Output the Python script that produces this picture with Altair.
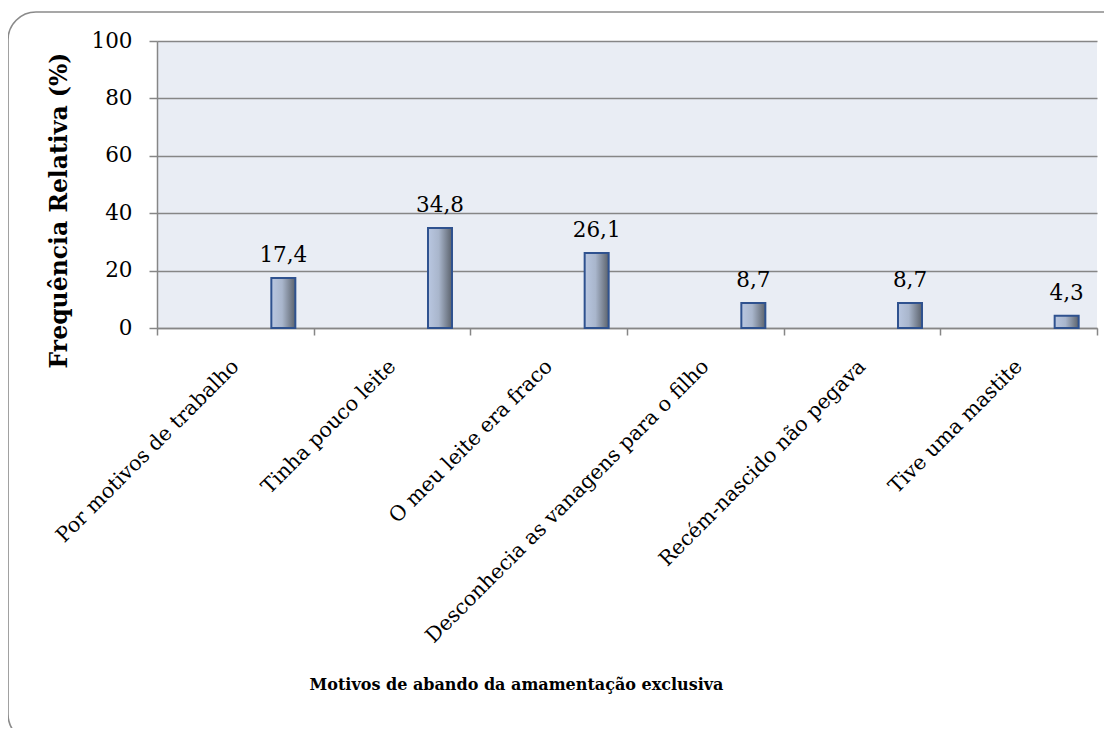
import altair as alt
import pandas as pd

categorias = [
    "Por motivos de trabalho",
    "Tinha pouco leite",
    "O meu leite era fraco",
    "Desconhecia as vanagens para o filho",
    "Recém-nascido não pegava",
    "Tive uma mastite",
]
valores = [17.4, 34.8, 26.1, 8.7, 8.7, 4.3]
y_ticks = [0, 20, 40, 60, 80, 100]

df = pd.DataFrame({"motivo": categorias, "valor": valores})

FONT = "DejaVu Serif"
GRAY = "#868686"
W, H = 940, 287

x_enc = alt.X(
    "motivo:N",
    sort=categorias,
    scale=alt.Scale(paddingInner=0, paddingOuter=0),
    axis=alt.Axis(
        title="Motivos de abando da amamentação exclusiva",
        labelAngle=315,
        labelAlign="right",
        labelBaseline="middle",
        labelPadding=28,
        labelLimit=0,
        tickBand="extent",
        tickSize=7,
        tickColor=GRAY,
        tickWidth=1.5,
        domainColor=GRAY,
        domainWidth=1.5,
        labelFont=FONT,
        labelFontSize=20.5,
        labelColor="black",
        titleFont=FONT,
        titleFontSize=16,
        titleFontWeight="bold",
        titleColor="black",
        titleX=359,
        titleY=361,
        titleAlign="center",
        titleBaseline="alphabetic",
        grid=False,
    ),
)

y_enc = alt.Y(
    "valor:Q",
    scale=alt.Scale(domain=[0, 100], nice=False),
    axis=alt.Axis(
        values=y_ticks,
        title="Frequência Relativa (%)",
        grid=True,
        gridColor=GRAY,
        gridWidth=1.3,
        tickSize=8,
        tickColor=GRAY,
        tickWidth=1.5,
        domainColor=GRAY,
        domainWidth=1.5,
        labelPadding=17,
        labelFont=FONT,
        labelFontSize=21.5,
        labelColor="black",
        titleFont=FONT,
        titleFontSize=23.5,
        titleFontWeight="bold",
        titleColor="black",
        titleAngle=270,
        titleX=-91,
        titleY=169,
        titleAlign="center",
        titleBaseline="alphabetic",
    ),
)

frame = alt.Chart(pd.DataFrame({"k": [0]})).mark_rect(
    filled=False, stroke="#8a8a8a", strokeWidth=1.6, cornerRadius=28
).encode(
    x=alt.value(-149), x2=alt.value(975), y=alt.value(-29), y2=alt.value(701)
)

gradient = alt.Gradient(
    gradient="linear",
    stops=[
        alt.GradientStop(color="#b9c7e1", offset=0),
        alt.GradientStop(color="#a9b6cc", offset=0.45),
        alt.GradientStop(color="#5b626c", offset=1),
    ],
    x1=0, x2=1, y1=0, y2=0,
)

bars = alt.Chart(df).mark_bar(
    width=24, xOffset=48, color=gradient, stroke="#2f528f", strokeWidth=2
).encode(x=x_enc, y=y_enc)

labels = alt.Chart(df).transform_calculate(
    rotulo="replace(format(datum.valor, '.1f'), '.', ',')"
).mark_text(
    xOffset=48, dy=-16, baseline="alphabetic", align="center",
    font=FONT, fontSize=21.5, color="black"
).encode(x=alt.X("motivo:N", sort=categorias), y=alt.Y("valor:Q"), text="rotulo:N")

chart = alt.layer(frame, bars, labels).properties(
    width=W,
    height=H,
    padding={"left": 149, "top": 33, "right": 7, "bottom": 400},
    autosize=alt.AutoSizeParams(type="none"),
    background="white",
).configure_view(fill="#e9edf4", strokeWidth=0)

chart.save("out.html", embed_options={"renderer": "svg", "actions": False})
